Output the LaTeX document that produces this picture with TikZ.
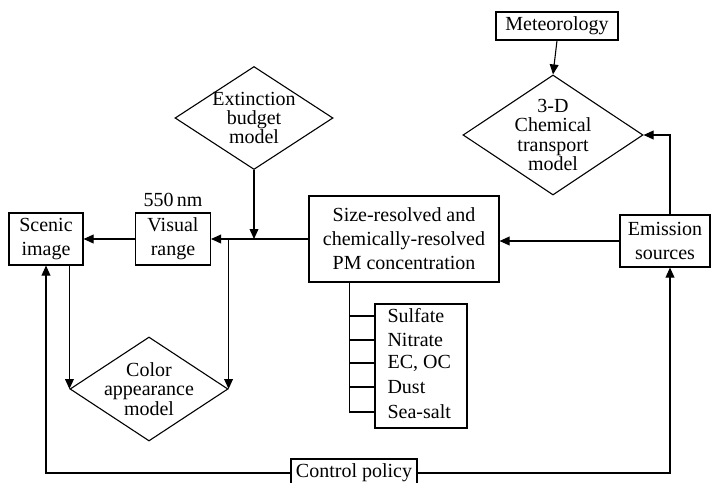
\documentclass[tikz,border=0pt]{standalone}
\usepackage{fontspec}
\setmainfont{Liberation Serif}
\usetikzlibrary{shapes.geometric, arrows.meta, positioning}
\tikzset{
>={Triangle[length=5pt,width=4.4pt]}, % filled arrow heads
every node/.style={font=\fontsize{10}{12}\selectfont},
box/.style={draw, rectangle, align=center, inner sep=1pt},
model/.style={draw, diamond, align=center, inner sep=-6pt, aspect=1.5,
  font=\fontsize{10}{9.6}\selectfont},
item/.style={anchor=west, inner sep=0pt}
}

\begin{document}
\begin{tikzpicture}[x=0.5pt, y=-0.5pt, line width=0.55pt]
      \useasboundingbox (0,0) rectangle (711,482);
      % boxes
      \node[box, minimum width=37pt, minimum height=26pt] (scenic) at (46,239) {Scenic\\image};
      \node[box, minimum width=37.5pt, minimum height=26pt] (visual) at (173,239) {Visual\\range};
      \node (nm) at (173,200) {550\,nm};
      \node[box, minimum width=95pt, minimum height=43pt] (pm) at (404,239) {Size-resolved and\\chemically-resolved\\PM concentration};
      \node[box, minimum width=45pt, minimum height=26pt] (emission) at (665,241) {Emission\\sources};
      \node[box, minimum width=61pt, minimum height=14pt] (meteo) at (557,26) {Meteorology};
      \node[box, minimum width=63pt, minimum height=14pt] (control) at (354,473) {Control policy};
      % models
      \node[model, minimum width=79pt, minimum height=51.5pt] (extinction) at (254,118) {Extinction\\budget\\model};
      \node[model, minimum width=79pt, minimum height=52pt] (color) at (149,389) {Color\\appearance\\model};
      \node[model, minimum width=90pt, minimum height=60pt] (ctm) at (553,135) {3-D\\Chemical\\transport\\model};
      % species
      \node[draw, minimum width=46pt, minimum height=62pt] (spec) at (421,366) {};
      \node[item] (sulfate) at (387,316) {Sulfate};
      \node[item] (nitrate) at (387,340) {Nitrate};
      \node[item] (ecoc) at (387,363) {EC, OC};
      \node[item] (dust) at (387,387) {Dust};
      \node[item] (seasalt) at (387,412) {Sea-salt};
      \coordinate (trunk) at ([xshift=20.5pt]pm.south west);

      \draw[->] (visual.west) -- (scenic.east);
      \draw[->] (pm.west) -- (visual.east);
      \draw[->] (extinction.south) -- (extinction.south |- pm.west);
      \draw[->] (color.east |- pm.west) -- (color.east);
      \draw[->] (color.west |- scenic.south) -- (color.west);
      \draw[->] (emission.west) -- (emission.west -| pm.east);
      \draw[->] ([xshift=2.5pt]emission.north) |- (ctm.east);
      \draw[->] (meteo.south) -- (ctm.north);
      \draw[->] (control.west) -| (scenic.south);
      \draw[->] (control.east) -| ([xshift=2.5pt]emission.south);
      \draw (trunk) -- (trunk |- seasalt.west);
      \foreach \it in {sulfate, nitrate, ecoc, dust, seasalt}
        \draw (trunk |- \it.west) -- (spec.west |- \it.west);
    \end{tikzpicture}
\end{document}
